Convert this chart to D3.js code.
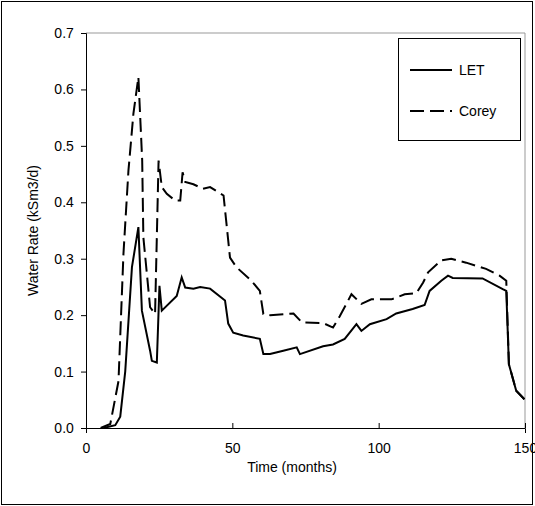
<!DOCTYPE html>
<html><head><meta charset="utf-8">
<script src="https://cdn.jsdelivr.net/npm/d3@7"></script>
<style>body{margin:0;background:#fff}svg{font-family:"Liberation Sans",Arial,sans-serif}</style>
</head><body>
<svg id="chart" width="535" height="506"></svg>
<script>
// ── Data ───────────────────────────────────────────────────
const xTicks = [0, 50, 100, 150];
const yTicks = [0, 0.1, 0.2, 0.3, 0.4, 0.5, 0.6, 0.7];

const letT = [6, 10, 11.7, 13.4, 15.7, 17.9, 19.1, 21.9, 22.5, 24.2, 25.1, 25.9, 31, 32.7, 33.9, 36.7, 39, 42.4, 47.5, 48.6, 50.3, 53.7, 59.4, 60.6, 62.9, 67.4, 72, 73.1, 81, 84.4, 88.4, 92.4, 94.1, 97, 102.7, 106, 111.6, 115.7, 117.4, 121.4, 123.7, 125.3, 135.5, 142.4, 143.6, 144.5, 147, 149.8];
const letV = [0, 0.005, 0.02, 0.1, 0.285, 0.356, 0.208, 0.137, 0.119, 0.116, 0.252, 0.208, 0.234, 0.267, 0.249, 0.247, 0.25, 0.247, 0.226, 0.185, 0.169, 0.164, 0.158, 0.131, 0.131, 0.137, 0.143, 0.131, 0.145, 0.148, 0.158, 0.184, 0.172, 0.184, 0.193, 0.203, 0.211, 0.218, 0.243, 0.261, 0.27, 0.266, 0.265, 0.246, 0.243, 0.113, 0.066, 0.051];

const coreyT = [5, 8.3, 11.1, 12.8, 14.5, 16.2, 17.9, 19.2, 19.6, 21.9, 23.6, 24.8, 25.9, 27.6, 30.5, 32.2, 33, 33.9, 36.7, 39.9, 42.4, 47, 49.2, 51.4, 56.5, 59.4, 60.6, 62.9, 70.9, 73.8, 81, 84.4, 86.7, 90.7, 94.1, 97.5, 104.4, 108.9, 112.9, 115.2, 116.9, 121.4, 124.8, 129.9, 136.7, 141.3, 143.6, 144.5, 147, 149.8];
const coreyV = [0, 0.007, 0.083, 0.309, 0.456, 0.557, 0.622, 0.474, 0.338, 0.214, 0.202, 0.474, 0.427, 0.415, 0.403, 0.403, 0.453, 0.436, 0.432, 0.424, 0.427, 0.412, 0.302, 0.285, 0.261, 0.243, 0.202, 0.2, 0.203, 0.187, 0.186, 0.178, 0.198, 0.237, 0.22, 0.228, 0.228, 0.237, 0.239, 0.258, 0.276, 0.297, 0.3, 0.293, 0.282, 0.27, 0.261, 0.113, 0.066, 0.051];

const seriesNames = ['LET', 'Corey'];

// ── Layout ─────────────────────────────────────────────────
const svg = d3.select('#chart');
const mLeft = 86, mRight = 525, mTop = 33, mBottom = 428;

const x = d3.scaleLinear().domain([0, 150]).range([mLeft, mRight]);
const y = d3.scaleLinear().domain([0, 0.7]).range([mBottom, mTop]);

// outer frame
svg.append('rect').attr('x', 1.5).attr('y', 1.5).attr('width', 531).attr('height', 503)
  .attr('fill', 'none').attr('stroke', '#000').attr('stroke-width', 1);

// plot area border (top/right gray)
svg.append('path')
  .attr('d', `M${mLeft},${mTop}H${mRight}V${mBottom}`)
  .attr('fill', 'none').attr('stroke', '#999').attr('stroke-width', 1);

const xAxis = svg.append('g').attr('transform', `translate(0,${mBottom})`)
  .call(d3.axisBottom(x).tickValues(xTicks).tickSize(5).tickFormat(d3.format('d')));
const yAxis = svg.append('g').attr('transform', `translate(${mLeft},0)`)
  .call(d3.axisLeft(y).tickValues(yTicks).tickSize(5).tickFormat(d3.format('.1f')));

[xAxis, yAxis].forEach(a => {
  a.select('.domain').attr('stroke', '#000');
  a.selectAll('text').attr('font-size', 14).attr('fill', '#000')
    .attr('font-family', '"Liberation Sans",Arial,sans-serif');
});
xAxis.selectAll('.tick line').attr('transform', 'translate(0,-5)').attr('y2', 5);
xAxis.selectAll('text').attr('dy', '1.2em');
yAxis.selectAll('text').attr('dx', '-0.3em');

svg.append('text').attr('x', 292).attr('y', 472)
  .attr('text-anchor', 'middle').attr('font-size', 14).text('Time (months)');
svg.append('text').attr('transform', `translate(38,${(mTop + mBottom) / 2}) rotate(-90)`)
  .attr('text-anchor', 'middle').attr('font-size', 14).text('Water Rate (kSm3/d)');

// ── Lines ──────────────────────────────────────────────────
const line = d3.line().x(d => x(d[0])).y(d => y(d[1]));
const letData = letT.map((t, i) => [t, letV[i]]);
const coreyData = coreyT.map((t, i) => [t, coreyV[i]]);

svg.append('path').datum(coreyData).attr('d', line)
  .attr('fill', 'none').attr('stroke', '#000').attr('stroke-width', 2)
  .attr('stroke-dasharray', '14,6');
svg.append('path').datum(letData).attr('d', line)
  .attr('fill', 'none').attr('stroke', '#000').attr('stroke-width', 2);

// ── Legend ─────────────────────────────────────────────────
const lg = svg.append('g');
lg.append('rect').attr('x', 398.5).attr('y', 38.5).attr('width', 122).attr('height', 102)
  .attr('fill', '#fff').attr('stroke', '#000');
seriesNames.forEach((n, i) => {
  const yy = 70 + i * 41;
  lg.append('line').attr('x1', 410).attr('x2', 452).attr('y1', yy).attr('y2', yy)
    .attr('stroke', '#000').attr('stroke-width', 2)
    .attr('stroke-dasharray', i === 1 ? '14,6' : null);
  lg.append('text').attr('x', 459).attr('y', yy + 5).attr('font-size', 14).text(n);
});
</script>
</body></html>
